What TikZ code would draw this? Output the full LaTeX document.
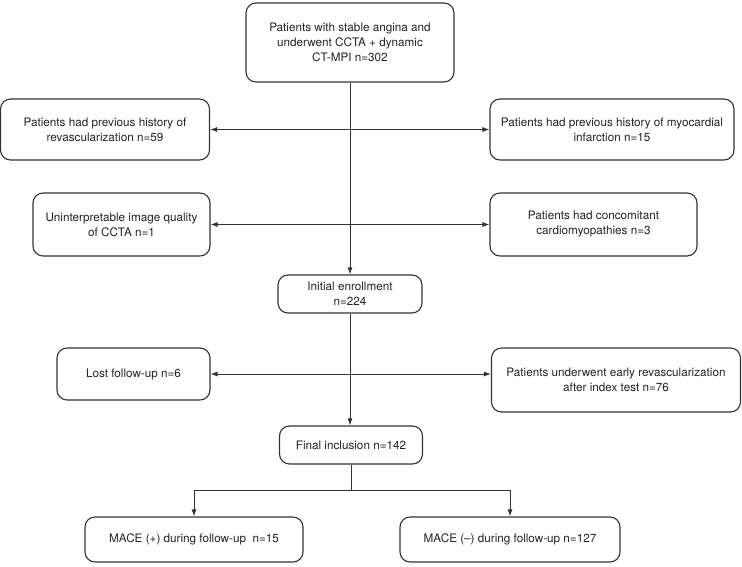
\documentclass[tikz,border=0pt]{standalone}
\usepackage{fontspec}
\setmainfont{TeX Gyre Heros}
\usetikzlibrary{arrows.meta,calc}
\definecolor{ln}{HTML}{333333}
\definecolor{tx}{HTML}{222222}
\tikzset{
  box/.style={draw=ln, line width=1.1pt, rounded corners=10pt, align=center,
    inner sep=0pt, text=tx, font=\fontsize{11.7pt}{15pt}\selectfont},
  conn/.style={draw=ln, line width=0.9pt},
  tip/.style={-{Latex[length=7pt,width=5pt]}},
  dtip/.style={{Latex[length=7pt,width=5pt]}-{Latex[length=7pt,width=5pt]}}
}
\begin{document}
\begin{tikzpicture}[x=1pt,y=-1pt]
\useasboundingbox (0,0) rectangle (742,566);
\node[box, minimum width=208pt, minimum height=79pt] (T) at (350,42.5)
  {Patients with stable angina and\\underwent CCTA + dynamic\\CT-MPI n=302};
\node[box, minimum width=209pt, minimum height=61pt] (L1) at (105,129.5)
  {Patients had previous history of\\revascularization n=59};
\node[box, minimum width=244pt, minimum height=61pt] (R1) at (612,129.5)
  {Patients had previous history of myocardial\\infarction n=15};
\node[box, minimum width=177pt, minimum height=63pt] (L2) at (121.5,224.5)
  {Uninterpretable image quality\\of CCTA n=1};
\node[box, minimum width=207pt, minimum height=63pt] (R2) at (593.5,224.5)
  {Patients had concomitant\\cardiomyopathies n=3};
\node[box, minimum width=144pt, minimum height=38pt] (IE) at (350,294)
  {Initial enrollment\\n=224};
\node[box, minimum width=153pt, minimum height=52pt] (L3) at (133.5,374)
  {Lost follow-up n=6};
\node[box, minimum width=249pt, minimum height=64pt] (R3) at (616,380)
  {Patients underwent early revascularization\\after index test n=76};
\node[box, minimum width=143pt, minimum height=38pt] (F) at (351,445)
  {Final inclusion n=142};
\node[box, minimum width=218pt, minimum height=45pt] (M1) at (194,539.5)
  {MACE (+) during follow-up\ \ n=15};
\node[box, minimum width=220pt, minimum height=45pt] (M2) at (510,539.5)
  {MACE (\textendash) during follow-up n=127};
% main flow
\draw[conn, tip] (T.south) -- (IE.north);
\draw[conn, dtip] (L1.east) -- (R1.west);
\draw[conn, dtip] (L2.east) -- (R2.west);
\draw[conn, tip] (IE.south) -- (IE.south |- F.north);
\coordinate (lr) at (L3.east);
\draw[conn, dtip] (lr) -- (lr -| R3.west);
\coordinate (j) at (351,490);
\draw[conn] (F.south) -- (j);
\draw[conn, tip] (j) -| (M1.north);
\draw[conn, tip] (j) -| (M2.north);
\end{tikzpicture}
\end{document}
